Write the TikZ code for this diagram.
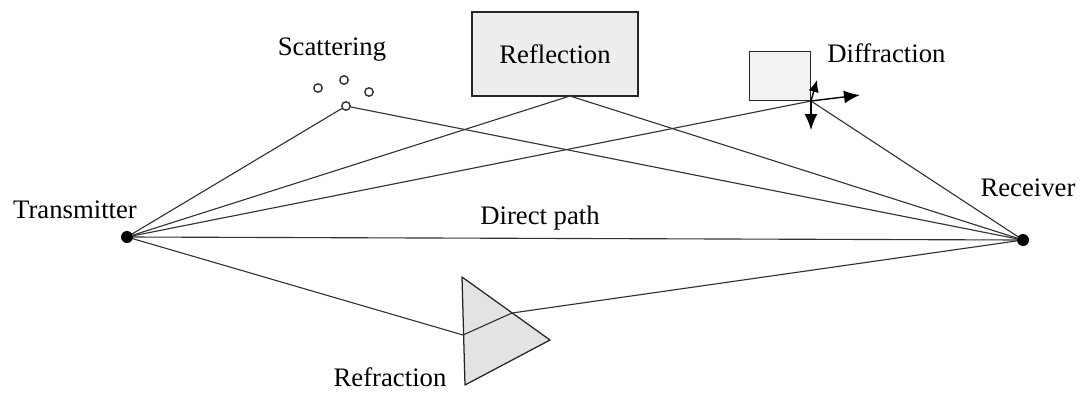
\documentclass[tikz,border=0pt]{standalone}
\usepackage{fontspec}
\setmainfont{Liberation Serif}
\usepackage{tikz}
\usetikzlibrary{arrows.meta, calc, positioning}
\tikzset{
	ray/.style={line width=0.8pt, black!80},
	dot/.style={circle, fill=black, inner sep=0pt, minimum size=0.3cm},
	grain/.style={circle, draw=black!80, line width=1pt, inner sep=0pt, minimum size=0.21cm},
	obstacle/.style={draw=black!85, line width=0.9pt, inner sep=0pt},
	spread/.style={line width=1pt, -{Latex[length=4mm, width=3.2mm]}},
	label/.style={font=\fontsize{19}{22}\selectfont, inner sep=0pt}
}

\begin{document}
\begin{tikzpicture}[line cap=round]
	\useasboundingbox (0,0) rectangle (27.075,9.8);

	\node[dot] (tx) at (3.175,3.875) {};
	\node[dot] (rx) at (25.575,3.8) {};
	\coordinate (scat) at (8.65,7.15);
	\coordinate (refl) at (14.25,7.4);
	\coordinate (diff) at (20.275,7.275);
	\coordinate (pin) at (11.575,1.425);
	\coordinate (pout) at (12.8,1.975);

	% obstacles
	\node[obstacle, fill=black!7, minimum width=4.15cm, minimum height=2.1cm, label] (reflbox) at (13.875,8.45) {Reflection};
	\node[obstacle, fill=black!5, minimum width=1.525cm, minimum height=1.225cm, anchor=south east] (diffbox) at (diff) {};
	\filldraw[fill=black!11, draw=black!85, line width=0.9pt, line join=round] (11.55,2.875) coordinate (prA) -- (13.75,1.3) coordinate (prB) -- (11.625,0.175) coordinate (prC) -- cycle;

	\node[grain] (g1) at (7.95,7.6) {};
	\node[grain] (g2) at (8.6,7.8) {};
	\node[grain] (g3) at (9.225,7.5) {};
	\node[grain] (g0) at (scat) {};

	% paths
	\draw[ray] (tx) -- (rx);
	\draw[ray] (tx) -- (g0) -- (rx);
	\draw[ray] (tx) -- (refl) -- (rx);
	\draw[ray] (tx) -- (diff) -- (rx);
	\draw[ray] (tx) -- (pin) -- (pout) -- (rx);

	\draw[spread] (diff) -- (21.5,7.425);
	\draw[spread] (diff) -- (20.275,6.55);
	\draw[spread, -{Latex[length=3mm, width=2.6mm]}] (diff) -- (20.425,7.8);

	\node[label] at (8.3,8.55) {Scattering};
	\node[label, anchor=west] at (20.675,8.475) {Diffraction};
	\node[label] at (1.875,4.55) {Transmitter};
	\node[label] at (25.7,5.1) {Receiver};
	\node[label] at (13.5,4.35) {Direct path};
	\node[label] at (9.75,0.375) {Refraction};

\end{tikzpicture}
\end{document}
